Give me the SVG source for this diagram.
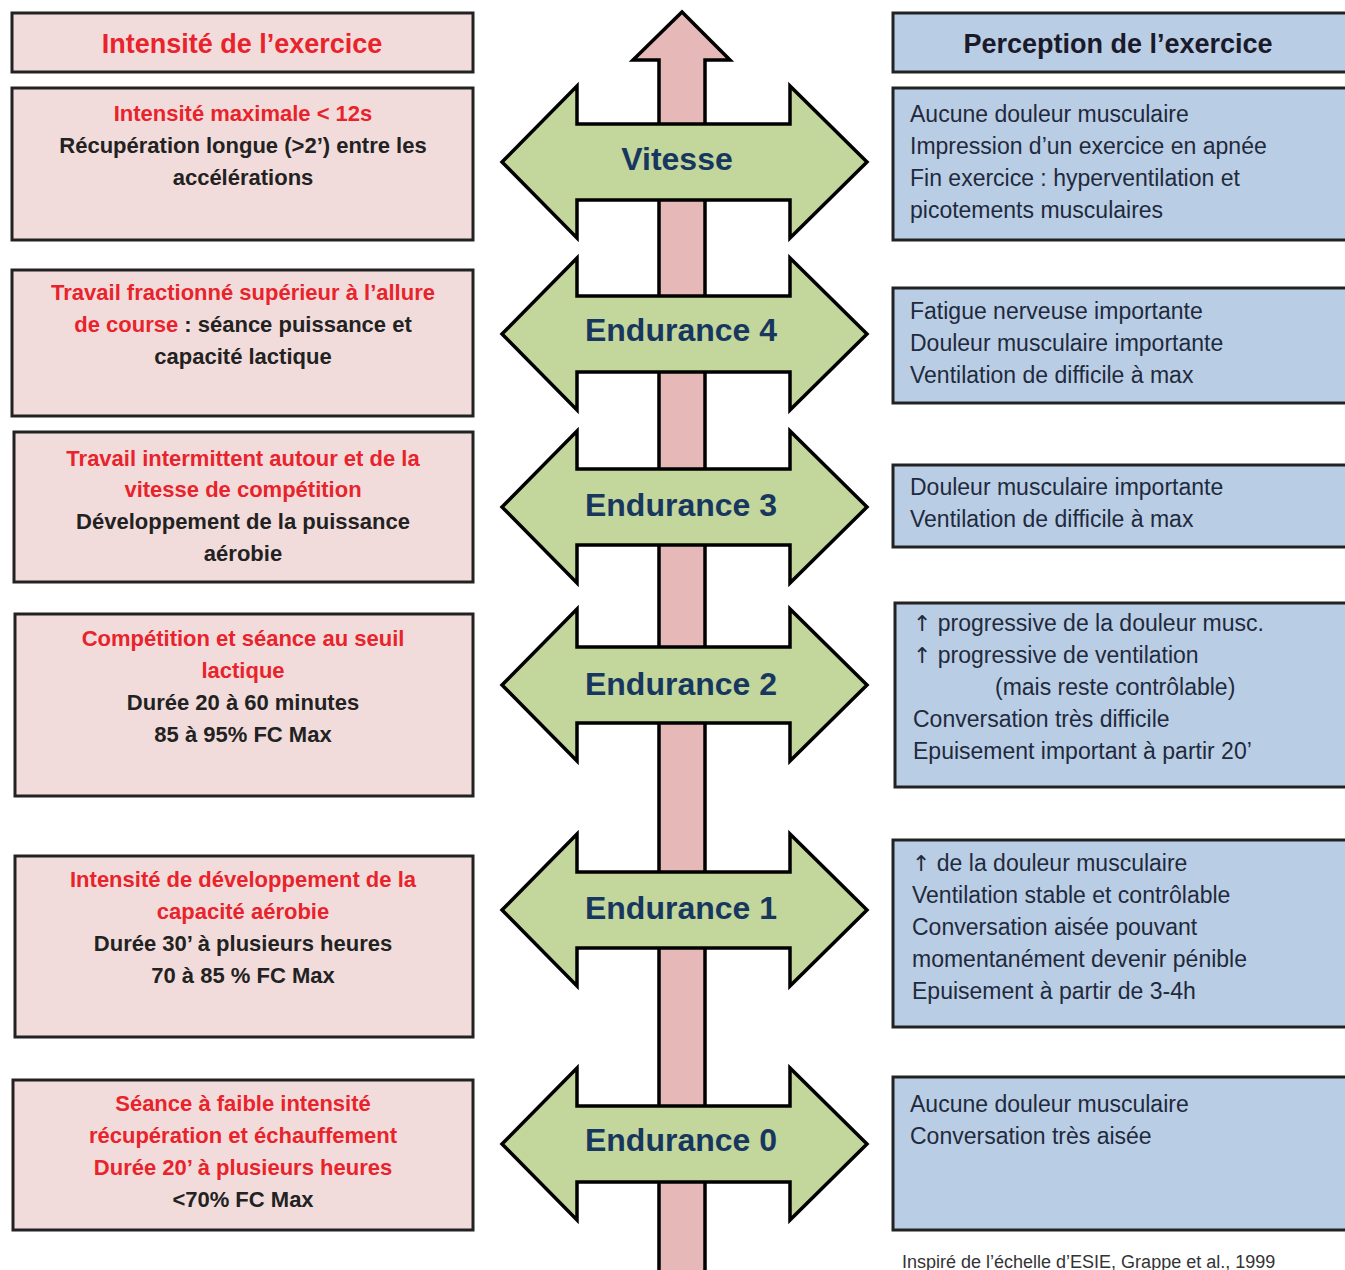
<svg xmlns="http://www.w3.org/2000/svg" xmlns:xlink="http://www.w3.org/1999/xlink" width="1345" height="1270" viewBox="0 0 1345 1270">
<style>
.pk{fill:#f2dcdb;stroke:#222;stroke-width:3}
.bl{fill:#b9cde5;stroke:#222;stroke-width:3}
.t{font-family:"Liberation Sans",Arial,sans-serif}
.lc{text-anchor:middle;font-weight:bold;font-size:22px}
.red{fill:#e8232b}
.blk{fill:#222}
.rt{font-size:23px;fill:#1f2a3c}
.up{font-family:"DejaVu Sans",sans-serif;font-size:22px}
.hd{font-weight:bold;font-size:27px;text-anchor:middle}
.al{font-weight:bold;font-size:32px;fill:#17375e;text-anchor:middle}
.ga{fill:#c3d69b;stroke:#000;stroke-width:3.5;stroke-linejoin:miter}
</style>
<defs>
<path id="dbl" class="ga" d="M502,0 L577,-76 L577,-38 L790,-38 L790,-76 L867,0 L790,76 L790,38 L577,38 L577,76 Z"/>
</defs>
<rect width="1345" height="1270" fill="#fff"/>
<g id="connectors">
<path d="M659,1275 L659,60 L633,60 L682,12 L730,60 L705,60 L705,1275" fill="#e6b9b8" stroke="#000" stroke-width="3.5"/>
<use xlink:href="#dbl" y="162"/>
<use xlink:href="#dbl" y="334"/>
<use xlink:href="#dbl" y="507"/>
<use xlink:href="#dbl" y="685"/>
<use xlink:href="#dbl" y="910"/>
<use xlink:href="#dbl" y="1144"/>
</g>
<g id="arrow-labels" class="t">
<text class="al" x="677" y="170">Vitesse</text>
<text class="al" x="681" y="341">Endurance 4</text>
<text class="al" x="681" y="516">Endurance 3</text>
<text class="al" x="681" y="695">Endurance 2</text>
<text class="al" x="681" y="919">Endurance 1</text>
<text class="al" x="681" y="1151">Endurance 0</text>
</g>
<g id="left-header">
<rect class="pk" x="12" y="13" width="461" height="59"/>
<text class="t hd red" x="242" y="53">Intensité de l’exercice</text>
</g>
<g id="left-1" class="t">
<rect class="pk" x="12" y="88" width="461" height="152"/>
<text class="lc red" x="243" y="121">Intensité maximale &lt; 12s</text>
<text class="lc blk" x="243" y="153">Récupération longue  (&gt;2’) entre les</text>
<text class="lc blk" x="243" y="185">accélérations</text>
</g>
<g id="left-2" class="t">
<rect class="pk" x="12" y="270" width="461" height="146"/>
<text class="lc red" x="243" y="300">Travail fractionné supérieur à l’allure</text>
<text class="lc blk" x="243" y="332"><tspan class="red">de course</tspan> : séance puissance  et</text>
<text class="lc blk" x="243" y="364">capacité lactique</text>
</g>
<g id="left-3" class="t">
<rect class="pk" x="14" y="432" width="459" height="150"/>
<text class="lc red" x="243" y="466">Travail intermittent autour et de la</text>
<text class="lc red" x="243" y="497">vitesse de compétition</text>
<text class="lc blk" x="243" y="529">Développement  de la puissance</text>
<text class="lc blk" x="243" y="561">aérobie</text>
</g>
<g id="left-4" class="t">
<rect class="pk" x="15" y="614" width="458" height="182"/>
<text class="lc red" x="243" y="646">Compétition  et séance au  seuil</text>
<text class="lc red" x="243" y="678">lactique</text>
<text class="lc blk" x="243" y="710">Durée 20 à 60  minutes</text>
<text class="lc blk" x="243" y="742">85 à 95% FC Max</text>
</g>
<g id="left-5" class="t">
<rect class="pk" x="15" y="856" width="458" height="181"/>
<text class="lc red" x="243" y="887">Intensité de développement  de la</text>
<text class="lc red" x="243" y="919">capacité aérobie</text>
<text class="lc blk" x="243" y="951">Durée 30’ à plusieurs  heures</text>
<text class="lc blk" x="243" y="983">70 à 85 % FC Max</text>
</g>
<g id="left-6" class="t">
<rect class="pk" x="13" y="1080" width="460" height="150"/>
<text class="lc red" x="243" y="1111">Séance à faible intensité</text>
<text class="lc red" x="243" y="1143">récupération et échauffement</text>
<text class="lc red" x="243" y="1175">Durée 20’ à plusieurs  heures</text>
<text class="lc blk" x="243" y="1207">&lt;70% FC Max</text>
</g>
<g id="right-header">
<rect class="bl" x="893" y="13" width="460" height="59"/>
<text class="t hd" x="1118" y="53" fill="#1a1a2a">Perception de l’exercice</text>
</g>
<g id="right-1" class="t">
<rect class="bl" x="893" y="88" width="460" height="152"/>
<text class="rt" x="910" y="122">Aucune douleur  musculaire</text>
<text class="rt" x="910" y="154">Impression d’un exercice en apnée</text>
<text class="rt" x="910" y="186">Fin exercice  : hyperventilation et</text>
<text class="rt" x="910" y="218">picotements musculaires</text>
</g>
<g id="right-2" class="t">
<rect class="bl" x="893" y="288" width="460" height="115"/>
<text class="rt" x="910" y="319">Fatigue nerveuse importante</text>
<text class="rt" x="910" y="351">Douleur musculaire importante</text>
<text class="rt" x="910" y="383">Ventilation de difficile  à max</text>
</g>
<g id="right-3" class="t">
<rect class="bl" x="893" y="465" width="460" height="82"/>
<text class="rt" x="910" y="495">Douleur musculaire importante</text>
<text class="rt" x="910" y="527">Ventilation de difficile  à max</text>
</g>
<g id="right-4" class="t">
<rect class="bl" x="895" y="603" width="458" height="184"/>
<text class="rt" x="913" y="631"><tspan class="up">↑</tspan> progressive de la douleur musc.</text>
<text class="rt" x="913" y="663"><tspan class="up">↑</tspan> progressive de ventilation</text>
<text class="rt" x="995" y="695">(mais reste contrôlable)</text>
<text class="rt" x="913" y="727">Conversation très difficile</text>
<text class="rt" x="913" y="759">Epuisement  important  à partir  20’</text>
</g>
<g id="right-5" class="t">
<rect class="bl" x="893" y="840" width="460" height="187"/>
<text class="rt" x="912" y="871"><tspan class="up">↑</tspan> de la douleur  musculaire</text>
<text class="rt" x="912" y="903">Ventilation stable et contrôlable</text>
<text class="rt" x="912" y="935">Conversation aisée pouvant</text>
<text class="rt" x="912" y="967">momentanément devenir pénible</text>
<text class="rt" x="912" y="999">Epuisement à partir de  3-4h</text>
</g>
<g id="right-6" class="t">
<rect class="bl" x="893" y="1077" width="460" height="153"/>
<text class="rt" x="910" y="1112">Aucune douleur  musculaire</text>
<text class="rt" x="910" y="1144">Conversation très aisée</text>
</g>
<text class="t" x="902" y="1268" font-size="18" fill="#333">Inspiré de l’échelle d’ESIE, Grappe et al., 1999</text>
</svg>
